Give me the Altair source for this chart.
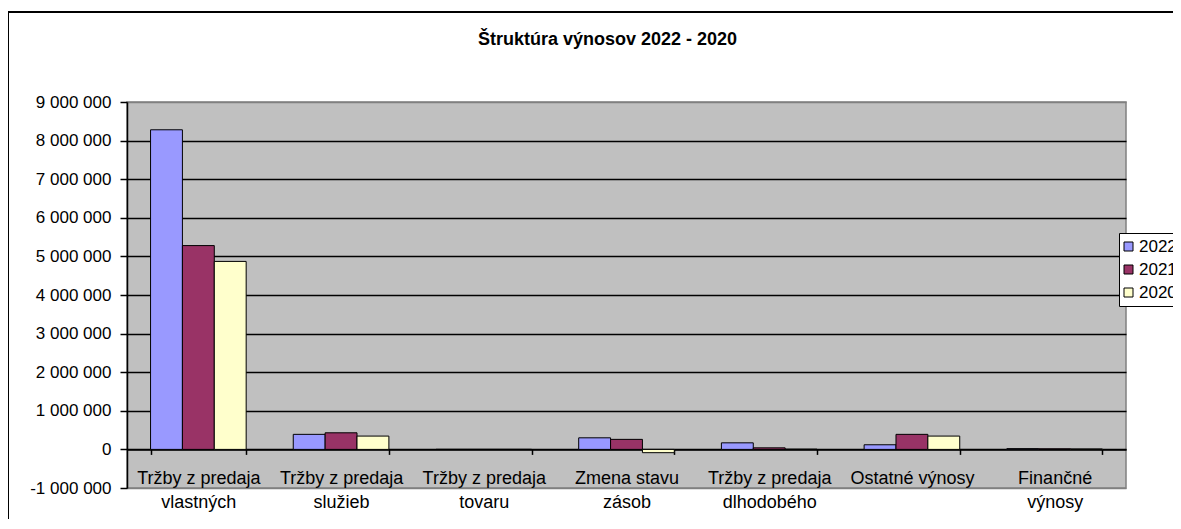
import altair as alt
import pandas as pd

categories = [
    "Tržby z predaja\nvlastných\nvýrobkov",
    "Tržby z predaja\nslužieb",
    "Tržby z predaja\ntovaru",
    "Zmena stavu\nzásob",
    "Tržby z predaja\ndlhodobého\nmajetku a zásob",
    "Ostatné výnosy",
    "Finančné\nvýnosy",
]
years = ["2022", "2021", "2020"]
values_2022 = [8280000, 390000, 0, 300000, 170000, 120000, 20000]
values_2021 = [5280000, 430000, 0, 260000, 40000, 390000, 15000]
values_2020 = [4870000, 345000, 0, -85000, 5000, 345000, 10000]
colors = ["#9999FF", "#993366", "#FFFFCC"]
y_ticks = [-1000000, 0, 1000000, 2000000, 3000000, 4000000, 5000000,
           6000000, 7000000, 8000000, 9000000]

rows = []
for yr, vals in zip(years, [values_2022, values_2021, values_2020]):
    for c, v in zip(categories, vals):
        rows.append({"cat": c, "year": yr, "value": v})
df = pd.DataFrame(rows)

FONT = "Liberation Sans"

bars = alt.Chart(df).mark_bar(stroke="black", strokeWidth=1).encode(
    x=alt.X(
        "cat:N",
        sort=categories,
        scale=alt.Scale(paddingInner=0.33, paddingOuter=0.165),
        axis=alt.Axis(
            title=None,
            labelAngle=0,
            labelExpr="split(datum.label, '\\n')",
            labelFontSize=18,
            labelLineHeight=24,
            labelColor="black",
            labelPadding=15,
            labelOverlap=False,
            labelLimit=300,
            offset=-38.6,
            domainColor="black",
            domainWidth=1.5,
            tickColor="black",
            tickWidth=1.5,
            tickSize=5,
            tickBand="extent",
            grid=False,
        ),
    ),
    xOffset=alt.XOffset("year:N", sort=years),
    y=alt.Y(
        "value:Q",
        scale=alt.Scale(domain=[-1000000, 9000000], nice=False),
        axis=alt.Axis(
            title=None,
            values=y_ticks,
            labelExpr="datum.value == 0 ? '0' : (datum.value / 1000000) + ' 000 000'",
            labelFontSize=17,
            labelColor="black",
            labelPadding=9,
            domainColor="black",
            domainWidth=1.5,
            tickColor="black",
            tickWidth=1.5,
            tickSize=7,
            grid=True,
            gridColor={
                "condition": {
                    "test": "datum.value == 9000000 || datum.value == -1000000",
                    "value": "#808080",
                },
                "value": "black",
            },
            gridWidth=1.5,
        ),
    ),
    color=alt.Color(
        "year:N",
        sort=years,
        scale=alt.Scale(domain=years, range=colors),
        legend=alt.Legend(
            title=None,
            orient="none",
            legendX=992,
            legendY=131,
            symbolType="square",
            symbolSize=81,
            symbolStrokeColor="black",
            symbolStrokeWidth=1,
            symbolOpacity=1,
            symbolOffset=-4,
            labelFontSize=17,
            labelColor="black",
            labelOffset=2,
            padding=5,
            rowPadding=5,
            strokeColor="black",
            fillColor="white",
        ),
    ),
)

frame = alt.Chart(pd.DataFrame({"a": [0]})).mark_rect(
    fill="white", fillOpacity=0, stroke="black", strokeWidth=2
).encode(
    x=alt.value(-119), x2=alt.value(1300), y=alt.value(-90), y2=alt.value(700)
)

chart = alt.layer(frame, bars).properties(
    width=999,
    height=386,
    title=alt.TitleParams(
        "Štruktúra výnosov 2022 - 2020",
        fontSize=18,
        fontWeight="bold",
        font=FONT,
        color="black",
        dx=-19,
        offset=-38,
    ),
    autosize=alt.AutoSizeParams(type="none"),
    padding={"left": 119, "top": 94, "right": 47, "bottom": 31},
    background="white",
).configure(
    font=FONT,
).configure_view(
    fill="#C0C0C0", stroke="#808080", strokeWidth=1.5
).configure_axis(
    labelFont=FONT
).configure_legend(
    labelFont=FONT
)

chart.save("out.html", embed_options={"renderer": "svg", "actions": False})
